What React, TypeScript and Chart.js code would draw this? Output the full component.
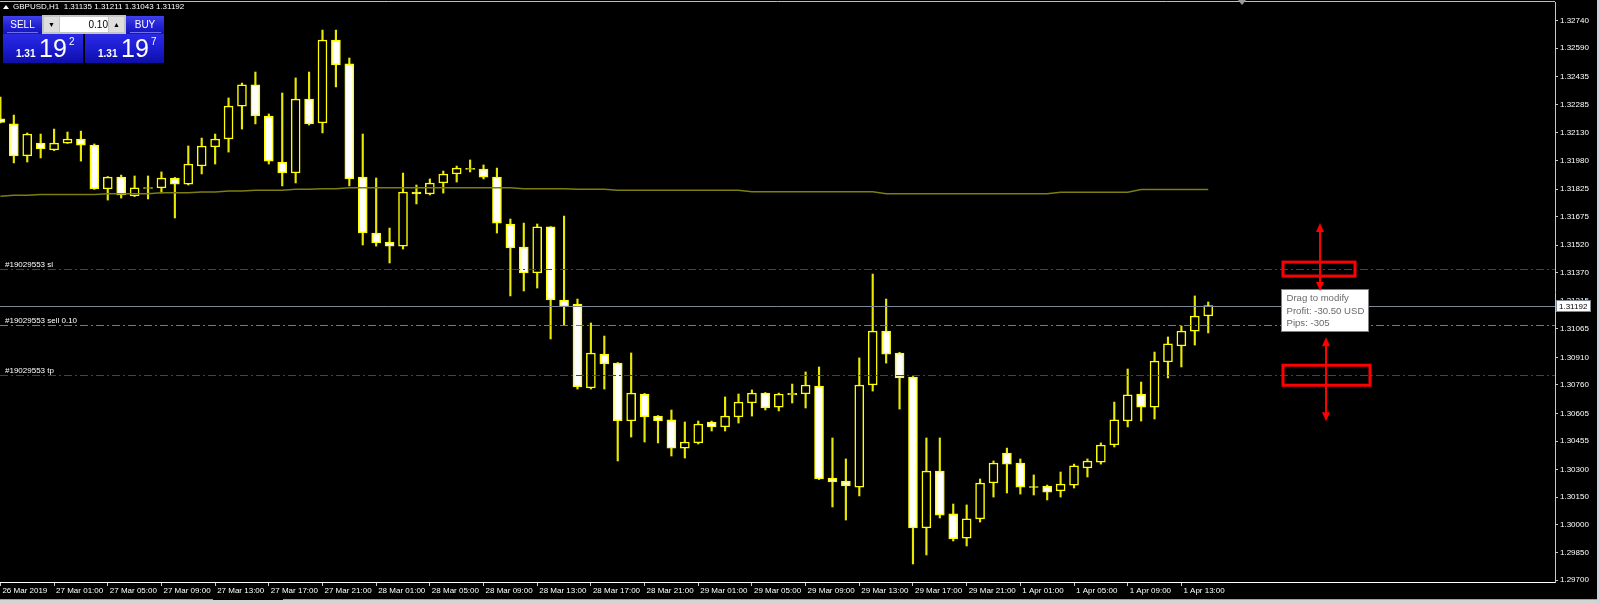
import React, { useEffect, useRef } from 'react';
import { Chart, registerables } from 'chart.js';

Chart.register(...registerables);

// ---- data (GBPUSD H1, bars from 26 Mar 2019 21:00 to 1 Apr 2019 15:00) ----
const opens = [
  1.32206, 1.32179, 1.32005, 1.32075, 1.32037, 1.32075, 1.32097, 1.32064, 1.31825, 1.31890,
  1.31787, 1.31828, 1.31831, 1.31885, 1.31852, 1.31950, 1.32054, 1.32097, 1.32276, 1.32391,
  1.32222, 1.31972, 1.31912, 1.32314, 1.32184, 1.32635, 1.32505, 1.31890, 1.31586, 1.31537,
  1.31515, 1.31809, 1.31798, 1.31858, 1.31907, 1.31931, 1.31934, 1.31890, 1.31635, 1.31510,
  1.31369, 1.31619, 1.31222, 1.31200, 1.30744, 1.30928, 1.30879, 1.30564, 1.30711, 1.30591,
  1.30570, 1.30417, 1.30445, 1.30559, 1.30532, 1.30586, 1.30662, 1.30716, 1.30640, 1.30708,
  1.30711, 1.30754, 1.30254, 1.30238, 1.30205, 1.30760, 1.31053, 1.30934, 1.30803, 1.29983,
  1.30292, 1.30059, 1.29928, 1.30032, 1.30227, 1.30390, 1.30336, 1.30208, 1.30211, 1.30184,
  1.30216, 1.30309, 1.30341, 1.30434, 1.30564, 1.30711, 1.30640, 1.30885, 1.30972, 1.31053,
  1.31135,
];
const highs = [
  1.32325, 1.32227, 1.32130, 1.32124, 1.32151, 1.32135, 1.32140, 1.32070, 1.31893, 1.31901,
  1.31896, 1.31896, 1.31918, 1.31888, 1.32059, 1.32102, 1.32124, 1.32320, 1.32401, 1.32461,
  1.32233, 1.32347, 1.32429, 1.32461, 1.32689, 1.32689, 1.32537, 1.32124, 1.31885, 1.31613,
  1.31912, 1.31847, 1.31880, 1.31923, 1.31950, 1.31983, 1.31956, 1.31939, 1.31662, 1.31640,
  1.31635, 1.31621, 1.31678, 1.31227, 1.31097, 1.31026, 1.30882, 1.30934, 1.30714, 1.30594,
  1.30624, 1.30559, 1.30564, 1.30564, 1.30695, 1.30711, 1.30733, 1.30719, 1.30716, 1.30765,
  1.30831, 1.30858, 1.30472, 1.30358, 1.30907, 1.31363, 1.31227, 1.30937, 1.30806, 1.30472,
  1.30472, 1.30113, 1.30108, 1.30249, 1.30347, 1.30417, 1.30358, 1.30271, 1.30216, 1.30287,
  1.30330, 1.30358, 1.30445, 1.30667, 1.30847, 1.30776, 1.30939, 1.31021, 1.31081, 1.31244,
  1.31211,
];
const lows = [
  1.32184, 1.31967, 1.31972, 1.31994, 1.32034, 1.32073, 1.31977, 1.31823, 1.31765, 1.31776,
  1.31784, 1.31771, 1.31803, 1.31668, 1.31847, 1.31907, 1.31961, 1.32026, 1.32151, 1.32179,
  1.31961, 1.31842, 1.31858, 1.32173, 1.32130, 1.32380, 1.31842, 1.31521, 1.31515, 1.31423,
  1.31499, 1.31744, 1.31793, 1.31803, 1.31863, 1.31918, 1.31880, 1.31586, 1.31244, 1.31271,
  1.31287, 1.31010, 1.31086, 1.30738, 1.30738, 1.30738, 1.30347, 1.30477, 1.30450, 1.30445,
  1.30374, 1.30363, 1.30439, 1.30510, 1.30510, 1.30553, 1.30591, 1.30624, 1.30619, 1.30662,
  1.30635, 1.30246, 1.30097, 1.30026, 1.30157, 1.30727, 1.30879, 1.30629, 1.29787, 1.29836,
  1.30037, 1.29912, 1.29885, 1.30015, 1.30151, 1.30173, 1.30167, 1.30162, 1.30135, 1.30151,
  1.30200, 1.30260, 1.30330, 1.30423, 1.30532, 1.30564, 1.30575, 1.30798, 1.30858, 1.30977,
  1.31043,
];
const closes = [
  1.32187, 1.32005, 1.32124, 1.32043, 1.32075, 1.32097, 1.32064, 1.31825, 1.31890, 1.31793,
  1.31831, 1.31833, 1.31885, 1.31852, 1.31961, 1.32059, 1.32097, 1.32276, 1.32391, 1.32222,
  1.31977, 1.31912, 1.32314, 1.32179, 1.32635, 1.32499, 1.31880, 1.31586, 1.31532, 1.31515,
  1.31809, 1.31798, 1.31858, 1.31907, 1.31939, 1.31937, 1.31890, 1.31640, 1.31505, 1.31369,
  1.31619, 1.31222, 1.31189, 1.30749, 1.30934, 1.30874, 1.30564, 1.30716, 1.30586, 1.30564,
  1.30417, 1.30450, 1.30548, 1.30532, 1.30591, 1.30667, 1.30716, 1.30635, 1.30711, 1.30714,
  1.30760, 1.30249, 1.30233, 1.30211, 1.30760, 1.31053, 1.30928, 1.30798, 1.29983, 1.30292,
  1.30053, 1.29923, 1.30032, 1.30227, 1.30336, 1.30330, 1.30205, 1.30203, 1.30178, 1.30222,
  1.30320, 1.30347, 1.30434, 1.30570, 1.30706, 1.30640, 1.30890, 1.30983, 1.31053, 1.31135,
  1.31192,
];
const maValues = [
  1.31786, 1.31791, 1.31791, 1.31796, 1.31796, 1.31796, 1.31796, 1.31796, 1.31800, 1.31800,
  1.31800, 1.31800, 1.31805, 1.31805, 1.31805, 1.31809, 1.31809, 1.31814, 1.31814, 1.31818,
  1.31818, 1.31818, 1.31824, 1.31824, 1.31827, 1.31827, 1.31832, 1.31832, 1.31832, 1.31832,
  1.31832, 1.31832, 1.31832, 1.31832, 1.31832, 1.31832, 1.31832, 1.31832, 1.31832, 1.31827,
  1.31827, 1.31827, 1.31827, 1.31824, 1.31824, 1.31824, 1.31818, 1.31818, 1.31818, 1.31818,
  1.31818, 1.31818, 1.31818, 1.31818, 1.31818, 1.31818, 1.31810, 1.31810, 1.31810, 1.31810,
  1.31810, 1.31810, 1.31810, 1.31810, 1.31810, 1.31810, 1.31800, 1.31800, 1.31800, 1.31800,
  1.31800, 1.31800, 1.31800, 1.31800, 1.31800, 1.31800, 1.31800, 1.31800, 1.31800, 1.31808,
  1.31808, 1.31808, 1.31808, 1.31808, 1.31808, 1.31822, 1.31822, 1.31822, 1.31822, 1.31822,
  1.31822,
];
const timeTickIndex = [0, 4, 8, 12, 16, 20, 24, 28, 32, 36, 40, 44, 48, 52, 56, 60, 64, 68, 72, 76, 80, 84, 88];
const timeTickLabels = [
  '26 Mar 2019', '27 Mar 01:00', '27 Mar 05:00', '27 Mar 09:00', '27 Mar 13:00', '27 Mar 17:00',
  '27 Mar 21:00', '28 Mar 01:00', '28 Mar 05:00', '28 Mar 09:00', '28 Mar 13:00', '28 Mar 17:00',
  '28 Mar 21:00', '29 Mar 01:00', '29 Mar 05:00', '29 Mar 09:00', '29 Mar 13:00', '29 Mar 17:00',
  '29 Mar 21:00', '1 Apr 01:00', '1 Apr 05:00', '1 Apr 09:00', '1 Apr 13:00',
];
const priceTicks = [
  1.32740, 1.32590, 1.32435, 1.32285, 1.32130, 1.31980, 1.31825, 1.31675, 1.31520, 1.31370,
  1.31215, 1.31065, 1.30910, 1.30760, 1.30605, 1.30455, 1.30300, 1.30150, 1.30000, 1.29850, 1.29700,
];
const priceMin = 1.2968913;
const priceMax = 1.3284164;
const xMin = -0.03;
const xMax = 115.84;

const bidPrice = 1.31192;
const slPrice = 1.31390;
const entryPrice = 1.31085;
const tpPrice = 1.30813;
const orderLabels = ['#19029553 sl', '#19029553 sell 0.10', '#19029553 tp'];
const tooltipLines = ['Drag to modify', 'Profit: -30.50 USD', 'Pips: -305'];
const headerText = 'GBPUSD,H1  1.31135 1.31211 1.31043 1.31192';

const FONT = "'Liberation Sans', Arial, sans-serif";
const YELLOW = '#ffff00';

function arrow(ctx: any, x: number, y1: number, y2: number) {
  ctx.strokeStyle = '#ff0000';
  ctx.fillStyle = '#ff0000';
  ctx.lineWidth = 2;
  ctx.beginPath();
  ctx.moveTo(x, y1 + 6);
  ctx.lineTo(x, y2 - 6);
  ctx.stroke();
  ctx.beginPath();
  ctx.moveTo(x, y1);
  ctx.lineTo(x - 4, y1 + 9);
  ctx.lineTo(x + 4, y1 + 9);
  ctx.closePath();
  ctx.fill();
  ctx.beginPath();
  ctx.moveTo(x, y2);
  ctx.lineTo(x - 4, y2 - 9);
  ctx.lineTo(x + 4, y2 - 9);
  ctx.closePath();
  ctx.fill();
}

const overlayPlugin = {
  id: 'mt4Overlay',
  afterDatasetsDraw(chart: any) {
    const { ctx, chartArea: a, scales } = chart;
    const y = scales.y;
    ctx.save();
    const yb = Math.round(y.getPixelForValue(bidPrice)) + 0.5;
    ctx.strokeStyle = '#7c8894';
    ctx.lineWidth = 1;
    ctx.beginPath();
    ctx.moveTo(a.left, yb);
    ctx.lineTo(a.right, yb);
    ctx.stroke();
    const lines = [
      { p: slPrice, c: '#e00000', t: orderLabels[0] },
      { p: entryPrice, c: '#22b822', t: orderLabels[1] },
      { p: tpPrice, c: '#e00000', t: orderLabels[2] },
    ];
    for (const l of lines) {
      const yy = Math.round(y.getPixelForValue(l.p)) + 0.5;
      ctx.setLineDash([8, 3, 2, 3]);
      ctx.strokeStyle = l.c;
      ctx.lineWidth = 1;
      ctx.beginPath();
      ctx.moveTo(a.left, yy);
      ctx.lineTo(a.right, yy);
      ctx.stroke();
      ctx.setLineDash([]);
      ctx.fillStyle = '#ffffff';
      ctx.font = `8px ${FONT}`;
      ctx.textBaseline = 'alphabetic';
      ctx.textAlign = 'left';
      ctx.fillText(l.t, 5, yy - 3);
    }
    ctx.restore();
  },
  afterDraw(chart: any) {
    const { ctx, chartArea: a, scales } = chart;
    const y = scales.y;
    ctx.save();
    ctx.strokeStyle = '#bfbfbf';
    ctx.lineWidth = 1;
    ctx.beginPath();
    ctx.moveTo(0, 1.5);
    ctx.lineTo(a.right, 1.5);
    ctx.stroke();
    ctx.fillStyle = '#9a9a9a';
    ctx.beginPath();
    ctx.moveTo(1238, 0);
    ctx.lineTo(1246, 0);
    ctx.lineTo(1242, 5);
    ctx.closePath();
    ctx.fill();

    const yb = y.getPixelForValue(bidPrice);
    ctx.fillStyle = '#ffffff';
    ctx.fillRect(a.right + 1.5, Math.round(yb) - 5.5, 34, 11);
    ctx.strokeStyle = '#7c8894';
    ctx.strokeRect(a.right + 1.5, Math.round(yb) - 5.5, 34, 11);
    ctx.fillStyle = '#000000';
    ctx.font = `8px ${FONT}`;
    ctx.textBaseline = 'middle';
    ctx.textAlign = 'left';
    ctx.fillText(bidPrice.toFixed(5), a.right + 4, Math.round(yb) + 0.5);

    const ySl = y.getPixelForValue(slPrice);
    const yTp = y.getPixelForValue(tpPrice);
    ctx.strokeStyle = '#ff0000';
    ctx.lineWidth = 3;
    ctx.strokeRect(1283, ySl - 7, 72, 14);
    ctx.strokeRect(1283, yTp - 10, 87, 20);

    const tx = 1281.5, ty = Math.round(ySl) + 20.5;
    ctx.fillStyle = '#ffffff';
    ctx.fillRect(tx, ty, 87, 42);
    ctx.strokeStyle = '#808080';
    ctx.lineWidth = 1;
    ctx.strokeRect(tx, ty, 87, 42);
    ctx.fillStyle = '#6a6a6a';
    ctx.font = `9.6px ${FONT}`;
    ctx.textBaseline = 'middle';
    ctx.textAlign = 'left';
    tooltipLines.forEach((t, i) => ctx.fillText(t, tx + 5, ty + 9 + i * 12.5));

    arrow(ctx, 1320, ySl - 46, ySl + 22);
    arrow(ctx, 1326, yTp - 38, yTp + 46);
    ctx.restore();
  },
};

export default function App() {
  const ref = useRef<HTMLCanvasElement>(null);
  useEffect(() => {
    document.body.style.margin = '0';
    document.body.style.background = '#000';
    const canvas = ref.current!;
    const idx = opens.map((_, i) => i);
    const bull = idx.map((i) => closes[i] >= opens[i]);
    const chart = new Chart(canvas, {
      type: 'bar',
      data: {
        datasets: [
          {
            type: 'line',
            data: idx.map((i) => ({ x: i, y: maValues[i] })),
            borderColor: '#7d7d12',
            borderWidth: 1.5,
            pointRadius: 0,
            tension: 0,
            order: 0,
          } as any,
          {
            type: 'bar',
            data: idx.map((i) => ({ x: i, y: [Math.min(opens[i], closes[i]), Math.max(opens[i], closes[i])] })),
            backgroundColor: bull.map((b) => (b ? '#000000' : '#ffffff')),
            borderColor: YELLOW,
            borderWidth: 1.5,
            borderSkipped: false,
            barThickness: 9,
            grouped: false,
            order: 1,
          } as any,
          {
            type: 'bar',
            data: idx.map((i) => ({ x: i, y: [lows[i], highs[i]] })),
            backgroundColor: '#e8e800',
            borderWidth: 0,
            barThickness: 1.5,
            grouped: false,
            order: 2,
          } as any,
        ],
      },
      options: {
        responsive: false,
        animation: false,
        devicePixelRatio: 1,
        events: [],
        layout: { padding: { top: 2, left: 0, right: 0, bottom: 0 } },
        plugins: { legend: { display: false }, tooltip: { enabled: false } },
        scales: {
          x: {
            type: 'linear',
            min: xMin,
            max: xMax,
            offset: false,
            afterBuildTicks: (s: any) => {
              s.ticks = timeTickIndex.map((v) => ({ value: v }));
            },
            afterFit: (s: any) => {
              s.height = 21;
              s.paddingLeft = 0;
              s.paddingRight = 0;
            },
            grid: { display: true, drawOnChartArea: false, drawTicks: true, tickLength: 4, color: '#c8c8c8', offset: false },
            border: { display: true, color: '#ffffff', width: 1 },
            ticks: {
              autoSkip: false,
              maxRotation: 0,
              minRotation: 0,
              align: 'start',
              labelOffset: 2,
              padding: 0,
              color: '#ffffff',
              font: { family: FONT, size: 8 },
              callback: (v: any) => {
                const k = timeTickIndex.indexOf(Number(v));
                return k >= 0 ? timeTickLabels[k] : '';
              },
            },
          } as any,
          y: {
            type: 'linear',
            position: 'right',
            min: priceMin,
            max: priceMax,
            beginAtZero: false,
            afterBuildTicks: (s: any) => {
              s.ticks = priceTicks.map((v) => ({ value: v }));
            },
            afterFit: (s: any) => {
              s.width = 45;
              s.paddingTop = 0;
              s.paddingBottom = 0;
            },
            grid: { display: true, drawOnChartArea: false, drawTicks: true, tickLength: 3, color: '#c8c8c8' },
            border: { display: true, color: '#c8c8c8', width: 1 },
            ticks: {
              padding: 2,
              color: '#ffffff',
              font: { family: FONT, size: 8 },
              callback: (v: any) => Number(v).toFixed(5),
            },
          } as any,
        },
      },
      plugins: [overlayPlugin],
    } as any);
    return () => chart.destroy();
  }, []);

  const btnGrad = 'linear-gradient(180deg, #4040ee 0%, #2222d2 55%, #1414b8 100%)';
  const boxGrad = 'linear-gradient(180deg, #2a2ae6 0%, #1c1cd0 50%, #0e0ea8 100%)';
  const abs = (s: any) => ({ position: 'absolute', ...s } as React.CSSProperties);

  const priceBox = (left: number, width: number, big: string, sup: string) => (
    <div style={abs({ left, top: 34, width, height: 29, background: boxGrad, color: '#fff', fontFamily: FONT })}>
      <span style={abs({ left: 13, top: 14.5, fontSize: 10, fontWeight: 'bold', lineHeight: '10px' })}>1.31</span>
      <span style={abs({ left: 36, top: 2.2, fontSize: 25, lineHeight: '25px' })}>{big}</span>
      <span style={abs({ left: 66, top: 2.5, fontSize: 10, lineHeight: '10px' })}>{sup}</span>
    </div>
  );

  return (
    <div style={{ position: 'relative', width: 1600, height: 603, background: '#000', overflow: 'hidden' }}>
      <canvas ref={ref} width={1600} height={603} style={{ display: 'block', width: 1600, height: 603 }} />
      <div style={abs({ left: 3, top: 5, width: 0, height: 0, borderLeft: '3px solid transparent', borderRight: '3px solid transparent', borderBottom: '4px solid #fff' })} />
      <div style={abs({ left: 13, top: 2, color: '#fff', fontFamily: FONT, fontSize: 8, lineHeight: '10px', whiteSpace: 'pre' })}>{headerText}</div>
      <div style={abs({ left: 3, top: 16, width: 39, height: 18, background: btnGrad, color: '#fff', fontFamily: FONT, fontSize: 10, lineHeight: '17px', textAlign: 'center' })}>SELL</div>
      <div style={abs({ left: 7, top: 32, width: 31, height: 1, background: '#7070f0' })} />
      <div style={abs({ left: 126, top: 16, width: 38, height: 18, background: btnGrad, color: '#fff', fontFamily: FONT, fontSize: 10, lineHeight: '17px', textAlign: 'center' })}>BUY</div>
      <div style={abs({ left: 130, top: 32, width: 31, height: 1, background: '#7070f0' })} />
      <div style={abs({ left: 42, top: 15, width: 84, height: 19, background: '#c4c4c4' })} />
      <div style={abs({ left: 44, top: 17, width: 15, height: 15, background: '#dedede', color: '#000', fontSize: 7, lineHeight: '15px', textAlign: 'center', fontFamily: FONT })}>▼</div>
      <div style={abs({ left: 60, top: 17, width: 48, height: 15, background: '#fff', color: '#000', fontSize: 10, lineHeight: '15px', textAlign: 'right', fontFamily: FONT })}>0.10</div>
      <div style={abs({ left: 109, top: 17, width: 15, height: 15, background: '#dedede', color: '#000', fontSize: 7, lineHeight: '15px', textAlign: 'center', fontFamily: FONT })}>▲</div>
      {priceBox(3, 80, '19', '2')}
      {priceBox(85, 79, '19', '7')}
      <div style={abs({ left: 1597, top: 0, width: 3, height: 603, background: '#c9d3e0' })} />
      <div style={abs({ left: 0, top: 600, width: 1597, height: 3, background: '#d4d4d4' })} />
      <div style={abs({ left: 0, top: 599, width: 213, height: 1, background: '#a0a0a0' })} />
      <div style={abs({ left: 283, top: 599, width: 1314, height: 1, background: '#a0a0a0' })} />
    </div>
  );
}
